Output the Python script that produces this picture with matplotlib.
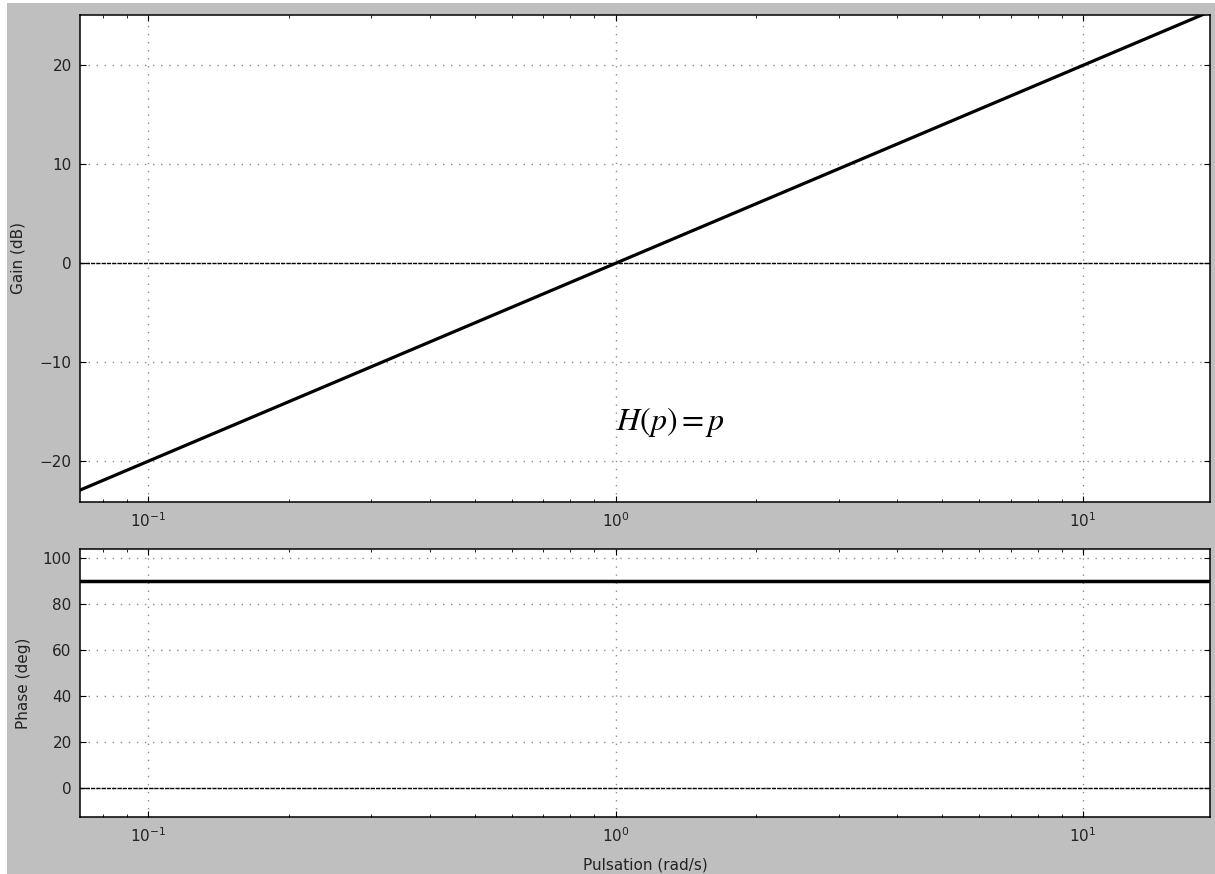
import matplotlib
matplotlib.use("Agg")
import matplotlib.pyplot as plt
from matplotlib.patches import Rectangle

# Bode diagram of H(p) = p
pulsation = [0.0715, 18.7]          # rad/s
gain_db = [-22.9, 25.4]             # dB
phase_deg = [90.0, 90.0]            # deg
xticks = [0.1, 1.0, 10.0]
gain_ticks = [-20, -10, 0, 10, 20]
phase_ticks = [0, 20, 40, 60, 80, 100]

plt.rcParams.update({
    "font.family": "DejaVu Sans",
    "font.size": 11,
    "mathtext.fontset": "stix",
    "xtick.direction": "in",
    "ytick.direction": "in",
    "xtick.top": True,
    "ytick.right": True,
    "xtick.major.size": 4,
    "xtick.minor.size": 2,
    "ytick.major.size": 4,
    "xtick.major.pad": 7,
    "ytick.major.pad": 6,
    "axes.linewidth": 1.1,
    "text.color": "#222222",
    "axes.labelcolor": "#222222",
})

W, H = 1215, 874
fig = plt.figure(figsize=(W / 100, H / 100), dpi=100, facecolor="white")
fig.patches.append(Rectangle((7 / W, 0), 1 - 7 / W, 1 - 3 / H,
                             transform=fig.transFigure, facecolor="#bfbfbf",
                             edgecolor="none", zorder=-10))


def px_axes(x0, y0, x1, y1):
    return fig.add_axes([x0 / W, 1 - y1 / H, (x1 - x0) / W, (y1 - y0) / H])


ax1 = px_axes(80, 15, 1210, 502)
ax2 = px_axes(80, 549, 1210, 817)

grid_kw = dict(color="#8c8c8c", linestyle=(0, (1, 4.8)), linewidth=1.0)

for ax in (ax1, ax2):
    ax.set_xscale("log")
    ax.set_xlim(pulsation[0], pulsation[1])
    ax.set_xticks(xticks)
    ax.grid(True, which="major", **grid_kw)
    ax.axhline(0, color="black", linestyle=(0, (3, 0.8)), linewidth=1.0)
    ax.tick_params(which="both", colors="black", labelcolor="#222222", labelsize=11)

ax1.plot(pulsation, gain_db, color="black", linewidth=2.3)
ax1.set_ylim(-24.1, 25.05)
ax1.set_yticks(gain_ticks)
ax1.set_ylabel("Gain (dB)", fontsize=11, labelpad=10)
ax1.text(1.0, -16, r"$H(p)=p$", fontsize=23, ha="left", va="center", color="black")

ax2.plot(pulsation, phase_deg, color="black", linewidth=2.5)
ax2.set_ylim(-12.6, 103.9)
ax2.set_yticks(phase_ticks)
ax2.set_ylabel("Phase (deg)", fontsize=11, labelpad=8.5)
ax2.set_xlabel("Pulsation (rad/s)", fontsize=11, labelpad=8.5)

fig.savefig("out.png", dpi=100, facecolor=fig.get_facecolor())
